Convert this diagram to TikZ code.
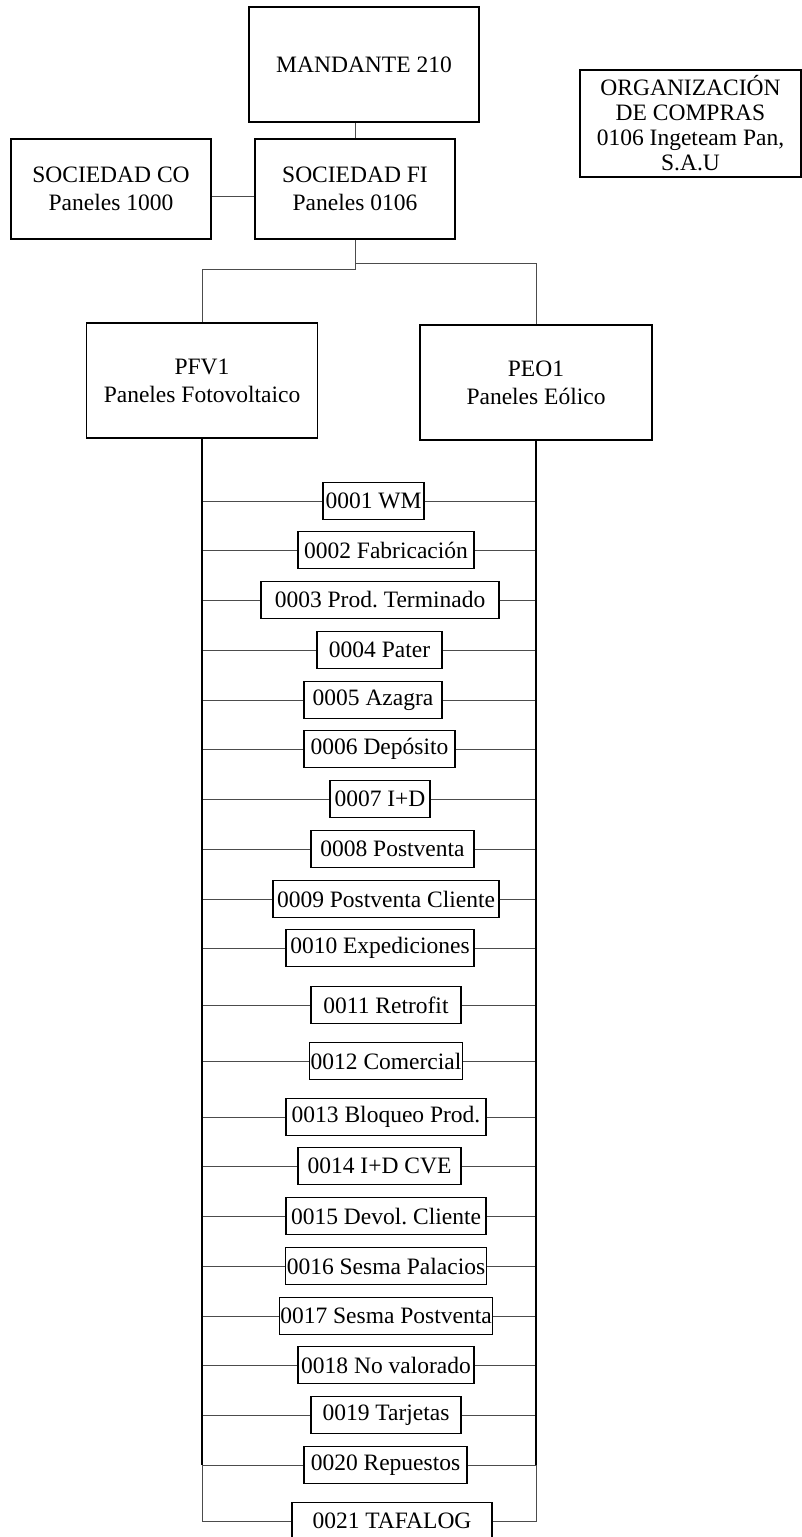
\documentclass[tikz,border=0pt]{standalone}
\usepackage{fontspec}
\setmainfont{Liberation Serif}
\usepackage{tikz}
\usepackage{xcolor}
\frenchspacing
\tikzstyle{every node}=[font=\fontsize{23.5}{28}\selectfont]
\tikzstyle{block} = [rectangle, draw, line width=1.2pt, text centered, align=center, inner xsep=1pt, inner ysep=2pt]
\tikzstyle{almacen} = [block, minimum height=37.5pt]
\tikzstyle{line} = [draw, line width=1pt, black!70]
\tikzstyle{bus} = [draw, line width=1.8pt]

\begin{document}
\begin{tikzpicture}[x=1pt, y=-1pt]
    \useasboundingbox (0,0) rectangle (802,1537);
    % Place nodes
    \node [block, minimum width=230pt, minimum height=115pt] (mandante) at (364,64.5) {MANDANTE 210};
    \node [block, minimum width=221pt, minimum height=107pt, font=\fontsize{23.5}{25}\selectfont] (compras) at (690.5,123.5) {ORGANIZACIÓN\\DE COMPRAS\\0106 Ingeteam Pan,\\S.A.U};
    \node [block, minimum width=200pt, minimum height=100pt] (soco) at (111,189) {SOCIEDAD CO\\Paneles 1000};
    \node [block, minimum width=200pt, minimum height=100pt] (sofi) at (355,189) {SOCIEDAD FI\\Paneles 0106};
    \node [block, minimum width=231pt, minimum height=115pt] (pfv) at (202,380.5) {PFV1\\Paneles Fotovoltaico};
    \node [block, minimum width=232pt, minimum height=115pt] (peo) at (536,382.5) {PEO1\\Paneles Eólico};
    % Almacenes
    \node [almacen, minimum width=101pt] (a01) at (373.5,501) {0001 WM};
    \node [almacen, minimum width=176pt] (a02) at (386,550) {0002 Fabricación};
    \node [almacen, minimum width=238pt] (a03) at (380,600) {0003 Prod. Terminado};
    \node [almacen, minimum width=125pt] (a04) at (379.5,650) {0004 Pater};
    \node [almacen, minimum width=138pt] (a05) at (373,700) {0005 Azagra};
    \node [almacen, minimum width=151pt] (a06) at (379.5,749) {0006 Depósito};
    \node [almacen, minimum width=100pt] (a07) at (380,799) {0007 I+D};
    \node [almacen, minimum width=163pt] (a08) at (392.5,849) {0008 Postventa};
    \node [almacen, minimum width=226pt] (a09) at (386,899) {0009 Postventa Cliente};
    \node [almacen, minimum width=188pt] (a10) at (380,948) {0010 Expediciones};
    \node [almacen, minimum width=150pt] (a11) at (386,1005) {0011 Retrofit};
    \node [almacen, minimum width=150pt] (a12) at (386,1061) {0012 Comercial};
    \node [almacen, minimum width=200pt] (a13) at (386,1117) {0013 Bloqueo Prod.};
    \node [almacen, minimum width=163pt] (a14) at (379.5,1166) {0014 I+D CVE};
    \node [almacen, minimum width=200pt] (a15) at (386,1216) {0015 Devol. Cliente};
    \node [almacen, minimum width=200pt] (a16) at (386,1266) {0016 Sesma Palacios};
    \node [almacen, minimum width=212pt] (a17) at (386,1316) {0017 Sesma Postventa};
    \node [almacen, minimum width=176pt] (a18) at (386,1365) {0018 No valorado};
    \node [almacen, minimum width=150pt] (a19) at (386,1415) {0019 Tarjetas};
    \node [almacen, minimum width=163pt] (a20) at (385.5,1465) {0020 Repuestos};
    \node [almacen, minimum width=200pt] (a21) at (392,1521) {0021 TAFALOG};
    % Draw edges
    \path [line] (sofi.north) -- (sofi.north |- mandante.south);
    \path [line] ([yshift=-7pt]soco.east) -- ([yshift=-7pt]soco.east -| sofi.west);
    \path [line] (sofi.south) -- ++(0,30) -| (pfv.north);
    \path [line] (sofi.south) ++(0,24) -| (peo.north);
    \path [line] (a01.west -| pfv.south) -- (a01.west) (a01.east) -- (a01.east -| peo.south);
    \path [line] (a02.west -| pfv.south) -- (a02.west) (a02.east) -- (a02.east -| peo.south);
    \path [line] (a03.west -| pfv.south) -- (a03.west) (a03.east) -- (a03.east -| peo.south);
    \path [line] (a04.west -| pfv.south) -- (a04.west) (a04.east) -- (a04.east -| peo.south);
    \path [line] (a05.west -| pfv.south) -- (a05.west) (a05.east) -- (a05.east -| peo.south);
    \path [line] (a06.west -| pfv.south) -- (a06.west) (a06.east) -- (a06.east -| peo.south);
    \path [line] (a07.west -| pfv.south) -- (a07.west) (a07.east) -- (a07.east -| peo.south);
    \path [line] (a08.west -| pfv.south) -- (a08.west) (a08.east) -- (a08.east -| peo.south);
    \path [line] (a09.west -| pfv.south) -- (a09.west) (a09.east) -- (a09.east -| peo.south);
    \path [line] (a10.west -| pfv.south) -- (a10.west) (a10.east) -- (a10.east -| peo.south);
    \path [line] (a11.west -| pfv.south) -- (a11.west) (a11.east) -- (a11.east -| peo.south);
    \path [line] (a12.west -| pfv.south) -- (a12.west) (a12.east) -- (a12.east -| peo.south);
    \path [line] (a13.west -| pfv.south) -- (a13.west) (a13.east) -- (a13.east -| peo.south);
    \path [line] (a14.west -| pfv.south) -- (a14.west) (a14.east) -- (a14.east -| peo.south);
    \path [line] (a15.west -| pfv.south) -- (a15.west) (a15.east) -- (a15.east -| peo.south);
    \path [line] (a16.west -| pfv.south) -- (a16.west) (a16.east) -- (a16.east -| peo.south);
    \path [line] (a17.west -| pfv.south) -- (a17.west) (a17.east) -- (a17.east -| peo.south);
    \path [line] (a18.west -| pfv.south) -- (a18.west) (a18.east) -- (a18.east -| peo.south);
    \path [line] (a19.west -| pfv.south) -- (a19.west) (a19.east) -- (a19.east -| peo.south);
    \path [line] (a20.west -| pfv.south) -- (a20.west) (a20.east) -- (a20.east -| peo.south);
    \path [line] (a20.west -| pfv.south) |- (a21.west);
    \path [line] (a20.east -| peo.south) |- (a21.east);
    % buses
    \path [bus] (pfv.south) -- (pfv.south |- a20.west);
    \path [bus] (peo.south) -- (peo.south |- a20.east);
\end{tikzpicture}
\end{document}
